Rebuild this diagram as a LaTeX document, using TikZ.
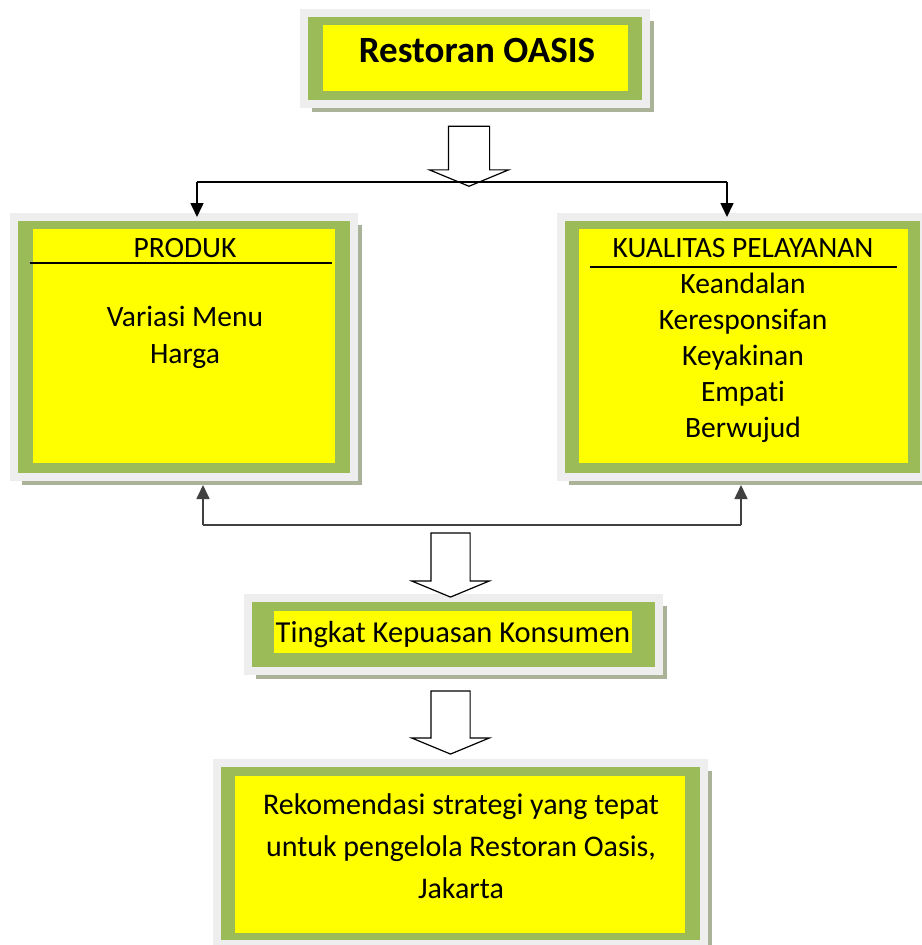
\documentclass[tikz,border=0pt]{standalone}
\usepackage{fontspec}
\setmainfont{Carlito}[Ligatures=NoCommon]
\usetikzlibrary{arrows.meta,shapes.arrows,shadows}
\definecolor{boxgreen}{RGB}{155,187,89}
\definecolor{boxyellow}{RGB}{255,255,0}
\definecolor{edgegray}{RGB}{238,238,238}
\definecolor{shadowgray}{RGB}{170,178,152}

\begin{document}
\begin{tikzpicture}[x=1pt, y=-1pt, font=\fontsize{29.5}{36}\selectfont,
		frame/.style={fill=boxgreen, draw=edgegray, line width=8pt, outer sep=0pt,
			drop shadow={shadow xshift=8pt, shadow yshift=-8pt, fill=shadowgray, opacity=1}},
		inner/.style={fill=boxyellow, inner sep=0pt, outer sep=0pt},
		itemtext/.style={anchor=base, inner sep=0pt},
		hollow/.style={single arrow, draw, fill=white, line width=1.2pt, shape border rotate=270,
			inner sep=19pt, single arrow head extend=19pt, single arrow tip angle=135},
		link/.style={line width=1.6pt},
		rule/.style={line width=1.2pt}]
		\useasboundingbox (0,0) rectangle (921,945);

		% Top box: restaurant
		\node[frame, minimum width=342pt, minimum height=91pt] (oasis) at (475,58.5) {};
		\node[inner, minimum width=305pt, minimum height=66pt] (oasisin) at (475.5,58) {};
		\node[itemtext, font=\fontsize{37}{40}\selectfont\bfseries] (oasistxt) at (477,62) {Restoran OASIS};

		% Left box: product
		\node[frame, minimum width=340pt, minimum height=260pt] (produk) at (184,347) {};
		\node[inner, minimum width=302pt, minimum height=234pt] (produkin) at (184,346) {};
		\node[itemtext] (produkhead) at (185,257) {PRODUK};
		\draw[rule] (30,263) -- (332,263);
		\foreach \txt [count=\i] in {Variasi Menu, Harga}
			\node[itemtext] (produk\i) at (185,289+37*\i) {\txt};

		% Right box: service quality
		\node[frame, minimum width=363pt, minimum height=260pt] (kualitas) at (742.5,347) {};
		\node[inner, minimum width=329pt, minimum height=234pt] (kualitasin) at (743.5,346) {};
		\node[itemtext] (kualitashead) at (743,257) {KUALITAS PELAYANAN};
		\draw[rule] (590,267) -- (897,267);
		\foreach \txt [count=\i] in {Keandalan, Keresponsifan, Keyakinan, Empati, Berwujud}
			\node[itemtext] (kualitas\i) at (743,257+36*\i) {\txt};

		% Middle box: satisfaction
		\node[frame, minimum width=411pt, minimum height=73pt] (puas) at (453.5,634.5) {};
		\node[itemtext, font=\fontsize{30.5}{36}\selectfont, fill=boxyellow, text height=25pt, text depth=5pt,
			inner xsep=2pt, inner ysep=6pt] (puastxt) at (453,642) {Tingkat Kepuasan Konsumen};

		% Bottom box: recommendation
		\node[frame, minimum width=487pt, minimum height=181pt] (rekom) at (460.5,853.5) {};
		\node[inner, minimum width=450pt, minimum height=157pt] (rekomin) at (460,854.5) {};
		\foreach \txt [count=\i] in {Rekomendasi strategi yang tepat, {untuk pengelola Restoran Oasis,}, Jakarta}
			\node[itemtext, font=\fontsize{30}{36}\selectfont] (rekom\i) at (461,772+42*\i) {\txt};

		% Hollow block arrows
		\node[hollow, minimum height=60pt, inner sep=20pt] (flowA) at (469,152) {};
		\node[hollow, minimum height=64pt] (flowB) at (450.5,561) {};
		\node[hollow, minimum height=63pt] (flowC) at (450.5,718.5) {};

		% Split to both boxes
		\coordinate (splitL) at (197,182);
		\coordinate (splitR) at (727,182);
		\draw[link] (splitL) -- (splitR);
		\draw[link, -{Triangle[length=14pt, width=13pt]}] (splitL) -- (splitL |- produk.north);
		\draw[link, -{Triangle[length=14pt, width=13pt]}] (splitR) -- (splitR |- kualitas.north);

		% Join back up
		\coordinate (joinL) at (203,525);
		\coordinate (joinR) at (741,525);
		\draw[link, black!75] (joinL) -- (joinR);
		\draw[link, black!75, shorten >=8pt, -{Triangle[length=14pt, width=13pt]}] (joinL) -- (joinL |- produk.south);
		\draw[link, black!75, shorten >=8pt, -{Triangle[length=14pt, width=13pt]}] (joinR) -- (joinR |- kualitas.south);
	\end{tikzpicture}
\end{document}
